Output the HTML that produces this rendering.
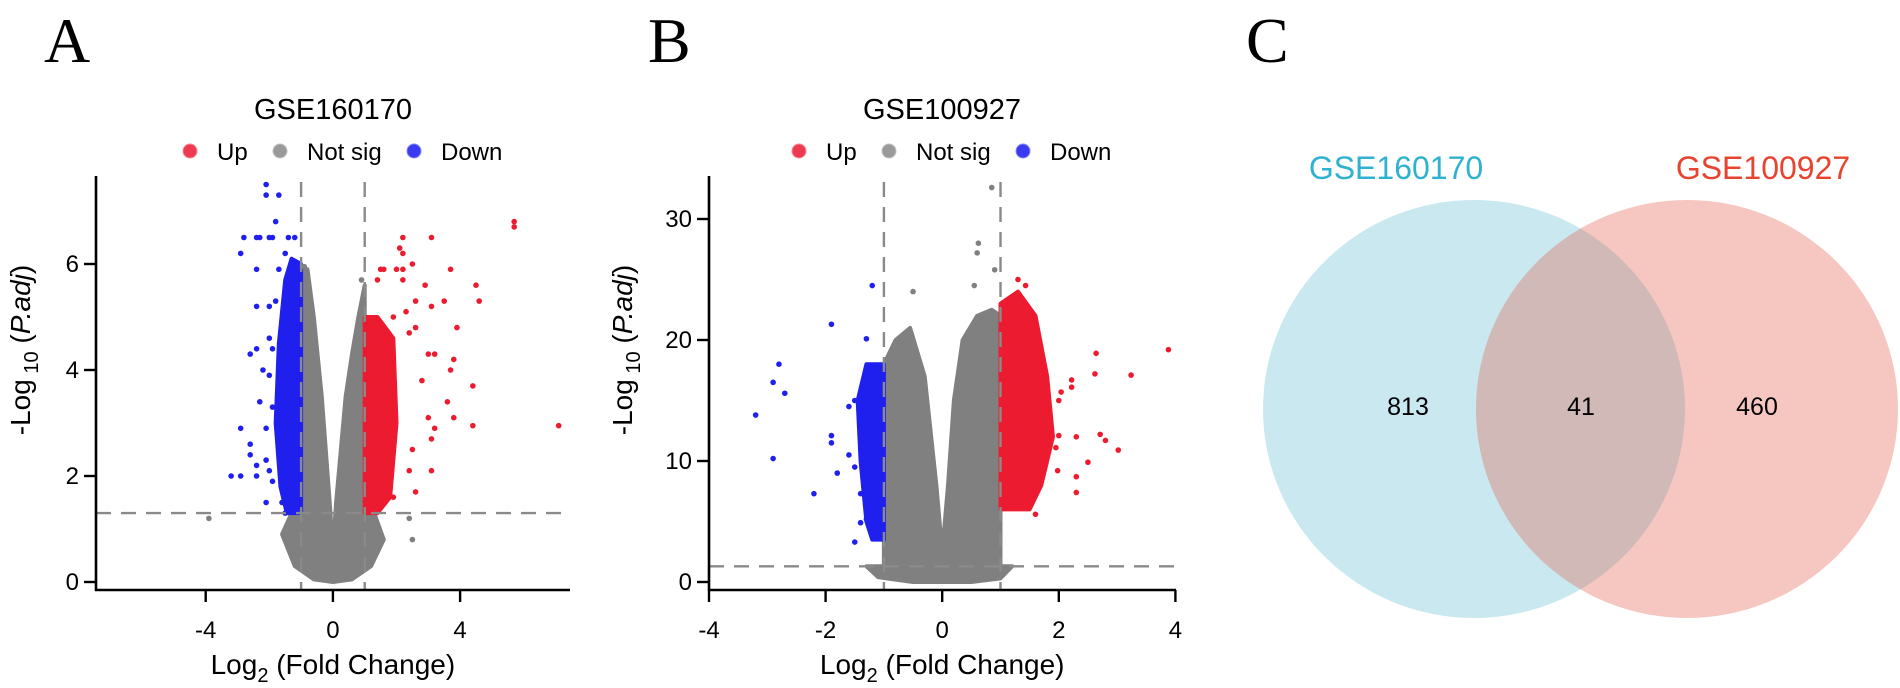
<!DOCTYPE html>
<html><head><meta charset="utf-8">
<style>
html,body{margin:0;padding:0;background:#fff;}
svg{display:block;font-family:"Liberation Sans",sans-serif;}
</style></head>
<body>
<svg id="fig" width="1900" height="688" viewBox="0 0 1900 688" xmlns="http://www.w3.org/2000/svg">
  <text x="44" y="62" font-family="Liberation Serif,serif" font-size="64">A</text>
  <text x="648" y="62" font-family="Liberation Serif,serif" font-size="64">B</text>
  <text x="1246" y="62" font-family="Liberation Serif,serif" font-size="64">C</text>
  <g id="pa"></g>
  <g id="pb"></g>
  <g id="pc"></g>
</svg>
<script>
// ---------- Panel A data ----------
const aXTicks = [-4, 0, 4];
const aYTicks = [0, 2, 4, 6];
const aGreyEnvelope = [[-1.6,0.9],[-1.3,1.3],[-1.0,1.3],[-1.0,5.9],[-0.8,5.9],[-0.6,5.0],[-0.35,3.5],[-0.1,1.5],[0,0.6],[0.1,1.5],[0.4,3.5],[0.6,4.3],[0.8,5.0],[1.0,5.6],[1.0,1.3],[1.3,1.3],[1.6,0.8],[1.2,0.3],[0.6,0.05],[0,0],[-0.6,0.05],[-1.2,0.3]];
const aDownBand = [[-1.0,1.3],[-1.0,6.0],[-1.3,6.1],[-1.5,5.7],[-1.7,4.5],[-1.8,3.0],[-1.65,1.8],[-1.45,1.3]];
const aUpBand = [[1.0,1.3],[1.0,5.0],[1.4,5.0],[1.9,4.6],[2.0,3.0],[1.8,1.6],[1.4,1.3]];
const aDownPts = [[-2.1,7.5],[-2.1,7.3],[-1.7,7.3],[-1.8,6.8],[-2.8,6.5],[-2.4,6.5],[-2.3,6.5],[-2.0,6.5],[-1.9,6.5],[-1.4,6.5],[-1.2,6.5],[-2.9,6.2],[-1.5,6.2],[-2.4,5.9],[-1.7,5.9],[-2.4,5.2],[-2.0,5.2],[-1.8,5.3],[-2.6,4.3],[-2.4,4.4],[-2.0,4.6],[-1.9,4.4],[-2.2,4.0],[-2.0,3.9],[-2.3,3.4],[-1.9,3.3],[-2.9,2.9],[-2.6,2.6],[-2.1,2.9],[-2.6,2.4],[-2.4,2.2],[-2.1,2.3],[-3.2,2.0],[-2.9,2.0],[-2.4,2.0],[-2.0,2.1],[-1.9,1.9],[-2.1,1.5],[-1.6,1.5],[-1.5,1.3]];
const aUpPts = [[5.7,6.7],[5.7,6.8],[2.2,6.5],[3.1,6.5],[2.1,6.3],[2.2,6.2],[2.5,6.0],[1.5,5.9],[1.6,5.9],[2.0,5.9],[2.2,5.9],[3.7,5.9],[1.4,5.7],[2.2,5.7],[2.9,5.6],[4.5,5.6],[4.6,5.3],[3.5,5.3],[2.6,5.3],[3.1,5.2],[2.3,5.1],[1.9,5.0],[2.6,4.8],[3.9,4.8],[2.4,4.7],[3.2,4.3],[3.0,4.3],[3.8,4.2],[3.7,4.0],[4.4,3.7],[2.8,3.8],[3.6,3.4],[3.8,3.1],[3.0,3.1],[3.2,2.9],[3.1,2.7],[2.5,2.5],[2.4,2.1],[3.1,2.1],[2.6,1.7],[1.9,1.6],[4.4,2.95],[7.1,2.95]];
const aGreyPts = [[-3.9,1.2],[2.4,1.2],[2.5,0.8],[-0.9,5.95],[0.9,5.7]];

// ---------- Panel B data ----------
const bXTicks = [-4, -2, 0, 2, 4];
const bYTicks = [0, 10, 20, 30];
const bGreyEnvelope = [[-1.0,1.3],[-1.0,18],[-0.8,20],[-0.55,21],[-0.3,17],[-0.1,8],[0,2.5],[0.1,8],[0.2,15],[0.35,20],[0.6,22],[0.85,22.5],[1.0,22],[1.0,1.3],[1.2,1.3],[1.0,0.3],[0.5,0],[-0.5,0],[-1.1,0.4],[-1.3,1.3]];
const bDownBand = [[-1.0,3.5],[-1.0,18],[-1.3,18],[-1.45,15],[-1.4,10],[-1.3,5],[-1.2,3.5]];
const bUpBand = [[1.0,6],[1.0,23],[1.3,24],[1.6,22],[1.8,17],[1.9,12],[1.7,8],[1.5,6]];
const bDownPts = [[-1.2,24.5],[-1.9,21.3],[-1.3,20.1],[-2.8,18],[-2.9,16.5],[-2.7,15.6],[-3.2,13.8],[-1.5,15],[-1.9,12.1],[-1.9,11.5],[-2.9,10.2],[-1.5,9.5],[-1.8,9],[-2.2,7.3],[-1.5,3.3],[-1.4,4.9],[-1.3,5.2],[-1.6,14.5],[-1.6,10.5],[-1.4,7.3]];
const bUpPts = [[3.88,19.2],[2.64,18.9],[2.62,17.2],[3.24,17.1],[2.22,16.7],[2.22,16.1],[2.04,15.7],[2.0,15.0],[2.71,12.2],[2.8,11.7],[3.02,10.9],[2.3,12.0],[2.0,12.1],[2.5,9.9],[2.3,8.7],[2.3,7.4],[1.98,9.2],[1.95,11.1],[1.6,5.6],[1.3,25],[1.43,24.5]];
const bGreyPts = [[0.85,32.6],[0.62,28],[0.6,27.2],[-0.5,24],[0.55,24.5],[0.9,25.8]];

// ---------- Panel C data ----------
const vennCounts = [813, 41, 460];
const vennNames = ["GSE160170", "GSE100927"];

const NS = "http://www.w3.org/2000/svg";
function mk(parent, tag, attrs, txt){
  const e = document.createElementNS(NS, tag);
  for (const k in attrs) e.setAttribute(k, attrs[k]);
  if (txt !== undefined) e.textContent = txt;
  parent.appendChild(e);
  return e;
}

function volcano(g, cfg){
  const sx = v => cfg.x0 + (v - cfg.xMin) * cfg.xu;
  const sy = v => cfg.yZero - v * cfg.yu;
  const AX = 590, TOP = 176;
  const poly = (arr, col, name) => {
    const p = mk(g, 'polygon', {points: arr.map(d => sx(d[0]) + ',' + sy(d[1])).join(' '), fill: col, stroke: col, 'stroke-width': 4, 'stroke-linejoin': 'round'});
    
    
  };
  const dots = (arr, col, name) => arr.forEach(d => {
    const c = mk(g, 'circle', {cx: sx(d[0]), cy: sy(d[1]), r: 2.8, fill: col});
    
    
  });
  poly(cfg.grey, '#808080', 'not-sig-cloud');
  poly(cfg.down, '#1f1fee', 'down-cloud');
  poly(cfg.up, '#ec1b30', 'up-cloud');
  dots(cfg.greyPts, '#808080', 'not-sig-point');
  dots(cfg.downPts, '#1f1fee', 'down-point');
  dots(cfg.upPts, '#ec1b30', 'up-point');
  [-1, 1].forEach(v => {
    const l = mk(g, 'line', {x1: sx(v), x2: sx(v), y1: TOP + 6, y2: AX, stroke: '#8a8a8a', 'stroke-width': 2.4, 'stroke-dasharray': '15,10'});
    
    
  });
  const h = mk(g, 'line', {x1: cfg.x0, x2: cfg.x1, y1: sy(1.3), y2: sy(1.3), stroke: '#8a8a8a', 'stroke-width': 2.4, 'stroke-dasharray': '15,10'});
  
  
  const ya = mk(g, 'line', {x1: cfg.x0, x2: cfg.x0, y1: TOP, y2: AX + 1, stroke: '#000', 'stroke-width': 2.6});
  
  
  const xa = mk(g, 'line', {x1: cfg.x0 - 1, x2: cfg.x1, y1: AX, y2: AX, stroke: '#000', 'stroke-width': 2.6});
  
  
  cfg.xTicks.forEach(v => {
    const t = mk(g, 'line', {x1: sx(v), x2: sx(v), y1: AX, y2: AX + 12, stroke: '#000', 'stroke-width': 2.4});
    
    
    const lb = mk(g, 'text', {x: sx(v), y: 638, 'font-size': 24, 'text-anchor': 'middle'}, v);
    
    
  });
  cfg.yTicks.forEach(v => {
    const t = mk(g, 'line', {x1: cfg.x0 - 12, x2: cfg.x0, y1: sy(v), y2: sy(v), stroke: '#000', 'stroke-width': 2.4});
    
    
    const lb = mk(g, 'text', {x: cfg.x0 - 17, y: sy(v) + 8, 'font-size': 24, 'text-anchor': 'end'}, v);
    
    
  });
  const xt = mk(g, 'text', {x: sx(0), y: 674, 'font-size': 28, 'text-anchor': 'middle'});
  
  
  xt.innerHTML = 'Log<tspan font-size="20" dy="8">2</tspan><tspan dy="-8"> (Fold Change)</tspan>';
  const yt = mk(g, 'text', {transform: 'translate(' + cfg.yTitleX + ',350) rotate(-90)', 'font-size': 28, 'text-anchor': 'middle'});
  
  
  yt.innerHTML = '-Log<tspan font-size="20" dy="8"> 10</tspan><tspan dy="-8"> (</tspan><tspan font-style="italic">P.adj</tspan>)';
  const ti = mk(g, 'text', {x: cfg.titleX, y: 119, 'font-size': 29, 'text-anchor': 'middle'}, cfg.title);
  
  
  const lx = cfg.titleX - 143;
  const leg = [['Up', '#ee3a4e', 0], ['Not sig', '#9a9a9a', 90], ['Down', '#3a3af0', 224]];
  leg.forEach(d => {
    const c = mk(g, 'circle', {cx: lx + d[2], cy: 151, r: 6.5, fill: d[1], stroke: d[1], 'stroke-opacity': 0.6, 'stroke-width': 2});
    
    
    const t = mk(g, 'text', {x: lx + d[2] + 27, y: 160, 'font-size': 24}, d[0]);
    
    
  });
}

volcano(document.getElementById('pa'), {x0: 96, x1: 570, xMin: -7.45, xu: 31.8, yZero: 582, yu: 53,
  xTicks: aXTicks, yTicks: aYTicks, grey: aGreyEnvelope, down: aDownBand, up: aUpBand,
  downPts: aDownPts, upPts: aUpPts, greyPts: aGreyPts, title: 'GSE160170', titleX: 333, yTitleX: 30});
volcano(document.getElementById('pb'), {x0: 709, x1: 1176, xMin: -4, xu: 58.3, yZero: 582, yu: 12.1,
  xTicks: bXTicks, yTicks: bYTicks, grey: bGreyEnvelope, down: bDownBand, up: bUpBand,
  downPts: bDownPts, upPts: bUpPts, greyPts: bGreyPts, title: 'GSE100927', titleX: 942, yTitleX: 632});

// ---------- Venn ----------
(function(){
  const g = document.getElementById('pc');
  const cy = 409, rx = 211, ry = 209, c1 = 1474, c2 = 1687;
  const defs = mk(g, 'defs', {});
  const cp = mk(defs, 'clipPath', {id: 'clipBlue'});
  mk(cp, 'ellipse', {cx: c1, cy: cy, rx: rx, ry: ry});
  const e1 = mk(g, 'ellipse', {cx: c1, cy: cy, rx: rx, ry: ry, fill: '#c9e8ef'});
  
  
  const e2 = mk(g, 'ellipse', {cx: c2, cy: cy, rx: rx, ry: ry, fill: '#f6c7c0'});
  
  
  const ov = mk(g, 'ellipse', {cx: c2, cy: cy, rx: rx, ry: ry, fill: '#d1b9b8', 'clip-path': 'url(#clipBlue)'});
  
  
  const n1 = mk(g, 'text', {x: 1396, y: 179, 'font-size': 32, fill: '#2fb2d2', 'text-anchor': 'middle'}, vennNames[0]);
  
  
  const n2 = mk(g, 'text', {x: 1763, y: 179, 'font-size': 32, fill: '#e8432e', 'text-anchor': 'middle'}, vennNames[1]);
  
  
  const xs = [1408, 1581, 1757];
  vennCounts.forEach((v, i) => {
    const t = mk(g, 'text', {x: xs[i], y: 415, 'font-size': 25, 'text-anchor': 'middle'}, v);
    
    
  });
})();
</script>
</body></html>
